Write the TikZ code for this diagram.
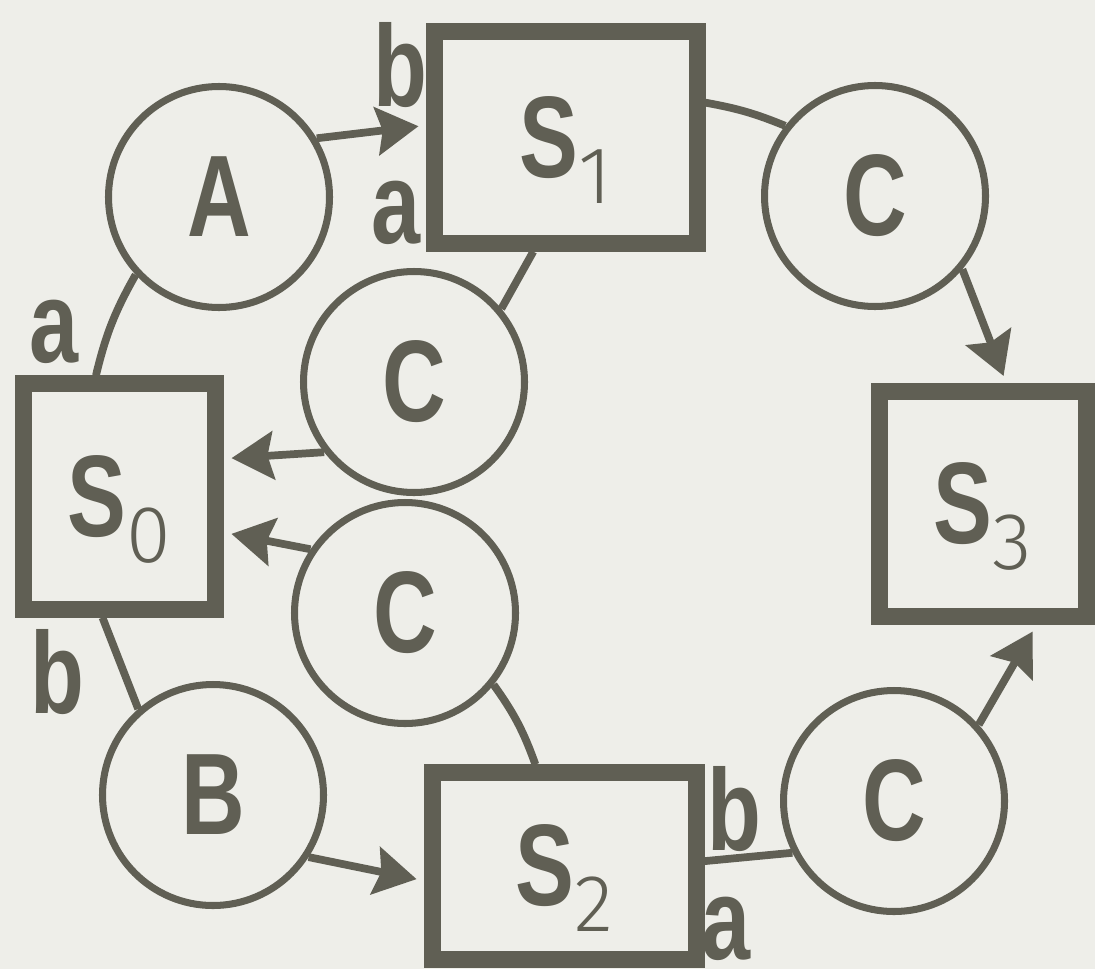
\documentclass[tikz,border=0pt]{standalone}
\usepackage{fontspec}
\usepackage{tikz}
\usetikzlibrary{arrows.meta}
\newfontfamily\condfont[FakeStretch=0.76]{Liberation Sans}
\newfontfamily\thinfont{Fira Sans Light}
\newcommand{\boldlabel}{\condfont\bfseries\fontsize{33pt}{36pt}\selectfont}
\newcommand{\sublabel}{\thinfont\mdseries\fontsize{23pt}{24pt}\selectfont}
\newcommand{\sname}[1]{S\raisebox{-0.26cm}[0pt][0pt]{\sublabel #1}}
\definecolor{ink}{RGB}{96,95,84}
\definecolor{paper}{RGB}{238,238,233}
\tikzset{
    % State boxes and input circles
    state box/.style={rectangle, draw=ink, line width=4.6pt, inner sep=0pt,
                      text=ink, font=\boldlabel},
    input circle/.style={circle, draw=ink, line width=2pt, minimum size=2.21cm,
                         inner sep=0pt, text=ink, font=\boldlabel},
    % Connectors
    link/.style={draw=ink, line width=2.2pt},
    arrow/.style={link, -{Stealth[length=4.2mm, width=4.8mm, inset=0.6mm]},
                  shorten >=0.8mm},
    % Edge letters
    edge label/.style={font=\boldlabel, text=ink, anchor=base, inner sep=0pt},
}

\begin{document}
\begin{tikzpicture}
    \fill[paper] (0,0) rectangle (10.95,9.69);
    \useasboundingbox (0,0) rectangle (10.95,9.69);

    % States
    \node[state box, minimum width=1.92cm, minimum height=2.26cm] (s0) at (1.195, 4.725) {\sname{0}};
    \node[state box, minimum width=2.63cm, minimum height=2.12cm] (s1) at (5.66, 8.315) {\sname{1}};
    \node[state box, minimum width=2.64cm, minimum height=1.87cm] (s2) at (5.645, 1.03) {\sname{2}};
    \node[state box, minimum width=2.07cm, minimum height=2.25cm] (s3) at (9.83, 4.65) {\sname{3}};

    % Inputs
    \node[input circle] (a) at (2.19, 7.72) {A};
    \node[input circle] (b) at (2.13, 1.74) {B};
    \node[input circle] (c1) at (8.75, 7.73) {C};
    \node[input circle] (c2) at (4.14, 5.87) {C};
    \node[input circle] (c3) at (4.05, 3.56) {C};
    \node[input circle] (c4) at (8.94, 1.68) {C};

    % Connectors
    \draw[link] (s0.101) to[bend left=8] (a.223);
    \draw[arrow] (a.31) -- (s1.175);
    \draw[link] (s1.14) to[bend left=6] (c1.142);
    \draw[arrow] (c1.-40) -- (s3.79);
    \draw[link] (s1.254) -- (c2.40);
    \draw[arrow] (c2.218) -- (s0.20);
    \draw[arrow] (c3.146) -- (s0.-19);
    \draw[link] (c3.-39) to[bend left=8] (s2.106);
    \draw[link] (s0.262) -- (b.131);
    \draw[arrow] (b.-33) -- (s2.186);
    \draw[link] (s2.2) -- (c4.207);
    \draw[arrow] (c4.42) -- (s3.-66);

    % Edge letters
    \node[edge label] (lb1) at (4.00, 8.63) {b};
    \node[edge label] (la1) at (3.96, 7.26) {a};
    \node[edge label] (la0) at (0.54, 6.07) {a};
    \node[edge label] (lb0) at (0.57, 2.56) {b};
    \node[edge label] (lb2) at (7.34, 1.19) {b};
    \node[edge label] (la2) at (7.26, 0.1) {a};
\end{tikzpicture}
\end{document}
